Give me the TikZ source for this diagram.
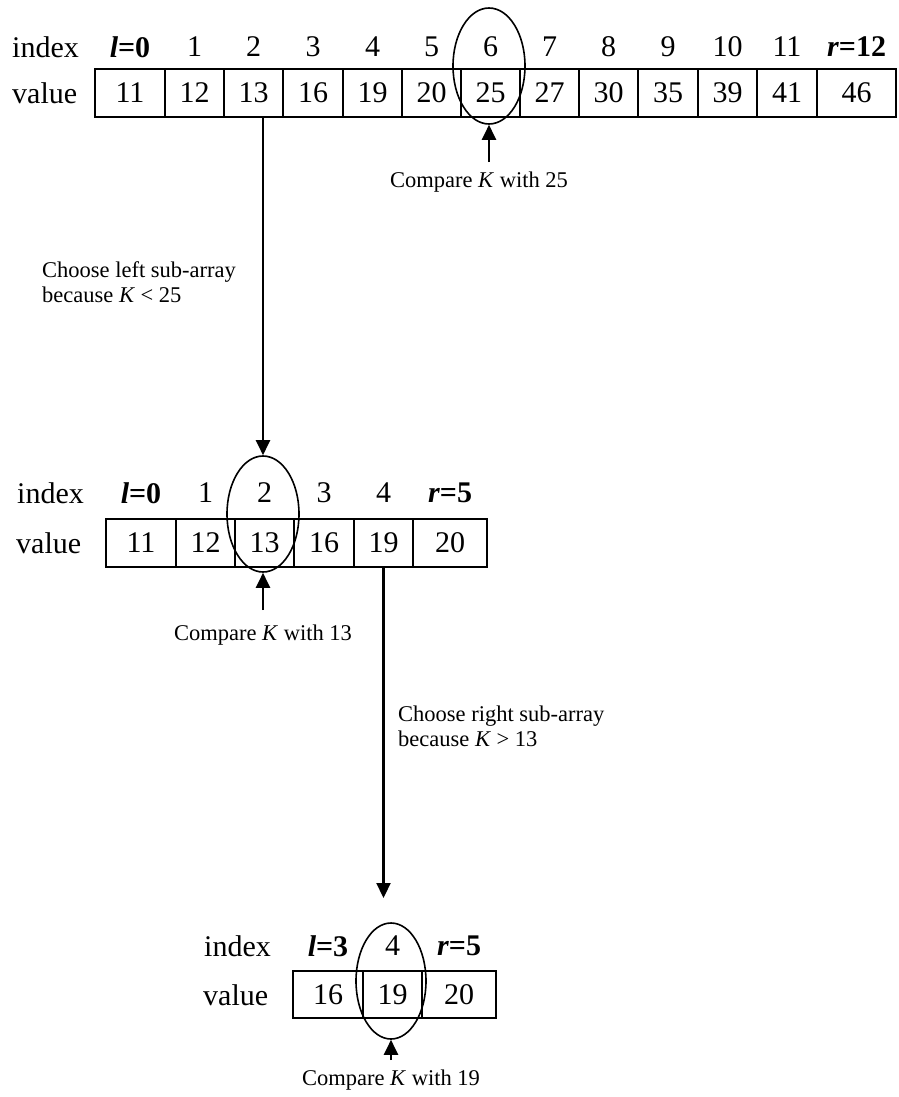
\documentclass[tikz,border=0pt]{standalone}
\usepackage{fontspec}
\setmainfont{Liberation Serif}
\usetikzlibrary{arrows.meta,shapes.geometric}

\tikzset{
  big/.style={font=\fontsize{30}{35}\selectfont, inner sep=0pt},
  small/.style={font=\fontsize{22.5}{25}\selectfont, inner sep=0pt},
  cell/.style={draw, line width=2.2pt, big, minimum height=48pt},
  probe/.style={draw, ellipse, line width=1.6pt, minimum width=72pt, minimum height=116pt, inner sep=0pt},
  pointer/.style={-{Triangle[length=15pt,width=14pt]}, line width=2.2pt},
  rowlabel/.style={big, anchor=west},
}
\newcommand{\lft}[1]{\textbf{\textit{l}=#1}}
\newcommand{\rgt}[1]{\textbf{\textit{r}=#1}}

\begin{document}
\begin{tikzpicture}[x=1pt,y=-1pt]
\useasboundingbox (0,0) rectangle (898,1097);

% ---------- first pass: whole array ----------
\node[rowlabel] (t-index) at (12,47) {index};
\node[rowlabel] (t-value) at (12,93) {value};
\foreach \n/\xl/\xr/\v/\i in {
   0/95/165/11/\lft{0}, 1/165/224/12/1, 2/224/283/13/2, 3/283/343/16/3,
   4/343/402/19/4, 5/402/461/20/5, 6/461/520/25/6, 7/520/579/27/7,
   8/579/638/30/8, 9/638/698/35/9, 10/698/757/39/10, 11/757/817/41/11,
   12/817/896/46/\rgt{12}} {
  \node[cell, minimum width={\xr-\xl}] (t\n) at ({(\xl+\xr)/2},93) {\v};
  \node[big] (ti\n) at ({(\xl+\xr)/2},47) {\i};
}
\node[probe] (e1) at (489,66) {};
\coordinate (c1) at (489,162);
\draw[pointer] (c1) -- (e1.south);
\node[small] (m1) at (479,182) {Compare \textit{K} with 25};

% step down to the left half
\node[probe] (e2) at (263,514) {};
\coordinate (s1) at (e2.north |- t2.south);
\draw[pointer] (s1) -- (e2.north);
\node[small, anchor=west, align=left] (d1) at (42,282)
  {Choose left sub-array\\because \textit{K} < 25};

% ---------- second pass ----------
\node[rowlabel] (u-index) at (17,493) {index};
\node[rowlabel] (u-value) at (16,543) {value};
\foreach \n/\xl/\xr/\v/\i in {
   0/106/176/11/\lft{0}, 1/176/235/12/1, 2/235/294/13/2,
   3/294/354/16/3, 4/354/413/19/4, 5/413/487/20/\rgt{5}} {
  \node[cell, minimum width={\xr-\xl}] (u\n) at ({(\xl+\xr)/2},543) {\v};
  \node[big] (ui\n) at ({(\xl+\xr)/2},493) {\i};
}
\coordinate (c2) at (263,610);
\draw[pointer] (c2) -- (e2.south);
\node[small] (m2) at (263,635) {Compare \textit{K} with 13};

% step down to the right half
\coordinate (s2) at (u4.south);
\coordinate (s2end) at (s2 |- 0,898);
\draw[pointer] (s2) -- (s2end);
\node[small, anchor=west, align=left] (d2) at (398,726)
  {Choose right sub-array\\because \textit{K} > 13};

% ---------- third pass ----------
\node[rowlabel] (w-index) at (204,946) {index};
\node[rowlabel] (w-value) at (203,995) {value};
\foreach \n/\xl/\xr/\v/\i in {
   3/293/363/16/\lft{3}, 4/363/422/19/4, 5/422/496/20/\rgt{5}} {
  \node[cell, minimum width={\xr-\xl}, minimum height=47pt] (w\n) at ({(\xl+\xr)/2},994.5) {\v};
  \node[big] (wi\n) at ({(\xl+\xr)/2},946) {\i};
}
\node[probe, minimum width=70pt] (e3) at (391,981) {};
\coordinate (c3) at (391,1060);
\draw[pointer] (c3) -- (e3.south);
\node[small] (m3) at (391,1080) {Compare \textit{K} with 19};
\end{tikzpicture}
\end{document}
